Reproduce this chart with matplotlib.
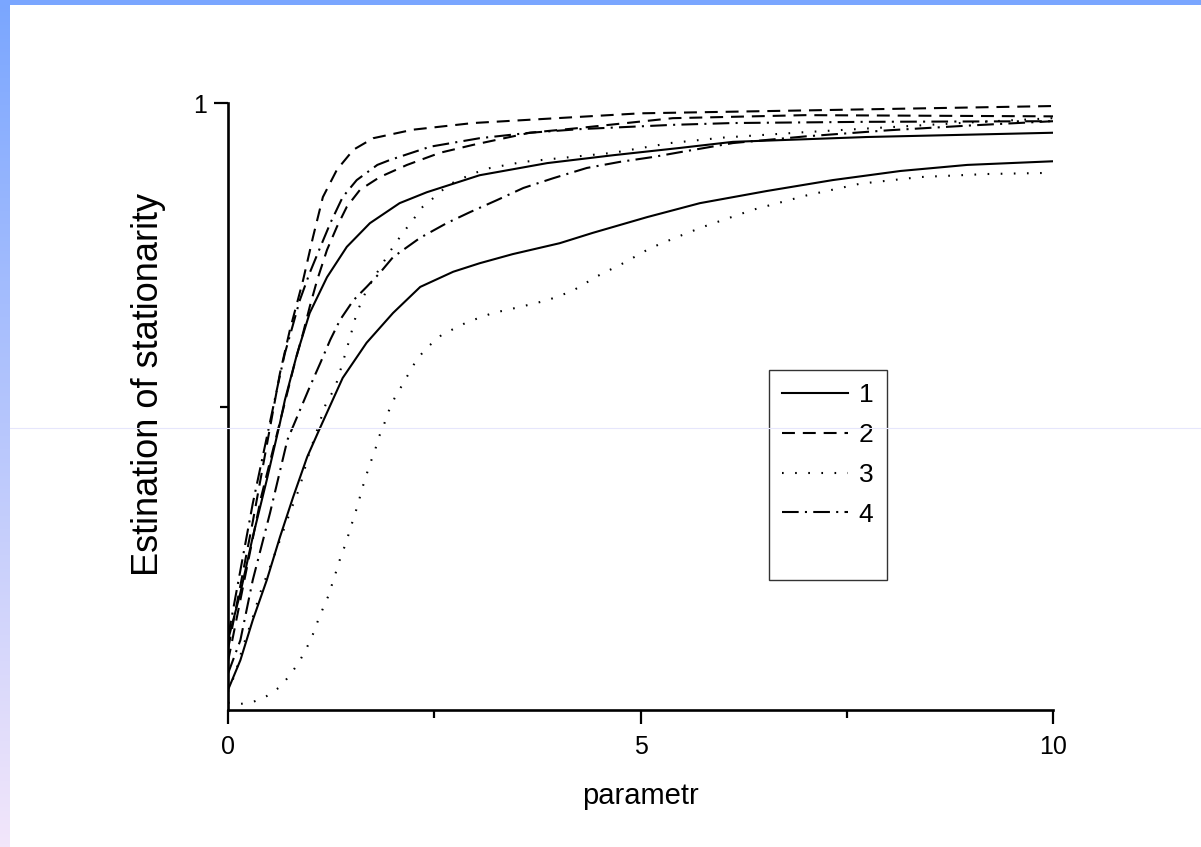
import numpy as np
import matplotlib
matplotlib.use("Agg")
import matplotlib.pyplot as plt
from matplotlib.lines import Line2D
from matplotlib.patches import Rectangle

plt.rcParams['font.family'] = ['Liberation Sans', 'DejaVu Sans']

# ---- data ----
x_1a = [0, 0.15, 0.30, 0.47, 0.63, 0.69, 0.84, 0.99, 1.2, 1.44, 1.72, 2.08, 2.41, 3.05, 3.87, 4.67, 5.48, 6.12, 7.75, 10]
y_1a = [0.115, 0.193, 0.285, 0.379, 0.473, 0.511, 0.588, 0.654, 0.713, 0.763, 0.802, 0.835, 0.853, 0.881, 0.901, 0.914, 0.926, 0.936, 0.944, 0.951]

x_1b = [0, 0.15, 0.30, 0.47, 0.63, 0.79, 0.96, 1.12, 1.27, 1.39, 1.68, 2.0, 2.33, 2.73, 3.05, 3.45, 4.02, 4.42, 5.08, 5.72, 6.53, 7.33, 8.15, 8.96, 10]
y_1b = [0.033, 0.082, 0.148, 0.214, 0.285, 0.351, 0.417, 0.466, 0.511, 0.547, 0.605, 0.654, 0.697, 0.722, 0.736, 0.751, 0.769, 0.786, 0.812, 0.835, 0.855, 0.873, 0.888, 0.898, 0.904]

x_2a = [0, 0.3, 0.63, 0.75, 0.91, 1.03, 1.15, 1.32, 1.52, 1.76, 2.24, 2.97, 5, 10]
y_2a = [0.1, 0.31, 0.555, 0.626, 0.708, 0.779, 0.845, 0.89, 0.923, 0.942, 0.956, 0.967, 0.983, 0.995]

x_2b = [0, 0.4, 0.81, 0.91, 0.99, 1.08, 1.2, 1.32, 1.44, 1.6, 1.84, 2.17, 2.57, 2.97, 3.66, 4.27, 5.39, 7, 10]
y_2b = [0.08, 0.35, 0.572, 0.621, 0.664, 0.708, 0.758, 0.796, 0.829, 0.857, 0.878, 0.898, 0.918, 0.931, 0.951, 0.959, 0.975, 0.98, 0.978]

x_3a = [0, 0.09, 0.18, 0.29, 0.39, 0.51, 0.63, 0.75, 0.87, 0.97, 1.08, 1.18, 1.3, 1.39, 1.48, 1.56, 1.68, 1.84, 2.0, 2.12, 2.24, 2.36, 2.53, 2.67, 2.84, 3.02, 3.18, 3.38, 3.58, 3.94, 4.67, 5.36, 6, 7, 8, 9, 10]
y_3a = [0.03, 0.061, 0.104, 0.148, 0.193, 0.236, 0.28, 0.325, 0.367, 0.417, 0.461, 0.502, 0.532, 0.572, 0.614, 0.654, 0.692, 0.728, 0.763, 0.786, 0.807, 0.829, 0.848, 0.865, 0.876, 0.886, 0.893, 0.898, 0.903, 0.908, 0.918, 0.934, 0.943, 0.952, 0.96, 0.968, 0.975]

x_3b = [0, 0.15, 0.30, 0.47, 0.63, 0.76, 0.87, 0.96, 1.03, 1.09, 1.15, 1.22, 1.27, 1.32, 1.37, 1.43, 1.48, 1.53, 1.58, 1.62, 1.67, 1.72, 1.78, 1.83, 1.89, 1.95, 2.02, 2.11, 2.29, 2.42, 2.59, 2.9, 3.21, 3.54, 3.87, 4.17, 4.48, 4.79, 5.12, 5.44, 5.76, 6.36, 7.02, 7.66, 8.39, 9.2, 10]
y_3b = [0.012, 0.010, 0.013, 0.023, 0.038, 0.059, 0.081, 0.104, 0.125, 0.147, 0.167, 0.189, 0.211, 0.232, 0.254, 0.275, 0.298, 0.319, 0.341, 0.362, 0.384, 0.405, 0.427, 0.450, 0.470, 0.493, 0.514, 0.535, 0.578, 0.598, 0.618, 0.639, 0.654, 0.664, 0.675, 0.690, 0.715, 0.736, 0.761, 0.779, 0.796, 0.824, 0.848, 0.867, 0.878, 0.883, 0.885]

x_4a = [0, 0.3, 0.61, 0.69, 0.78, 0.87, 0.99, 1.12, 1.24, 1.39, 1.56, 1.81, 1.96, 2.45, 3.05, 3.66, 4.27, 5.39, 6.12, 7.75, 10]
y_4a = [0.12, 0.34, 0.539, 0.588, 0.631, 0.675, 0.72, 0.763, 0.802, 0.845, 0.873, 0.898, 0.906, 0.928, 0.942, 0.951, 0.957, 0.964, 0.967, 0.969, 0.970]

x_4b = [0, 0.15, 0.3, 0.51, 0.72, 0.99, 1.12, 1.24, 1.36, 1.52, 1.68, 1.84, 2.0, 2.33, 2.65, 2.93, 3.26, 3.58, 3.94, 4.35, 4.75, 5.15, 5.48, 6.12, 7, 8, 9, 10]
y_4b = [0.06, 0.115, 0.214, 0.325, 0.445, 0.532, 0.572, 0.61, 0.643, 0.675, 0.697, 0.72, 0.746, 0.778, 0.802, 0.82, 0.84, 0.86, 0.876, 0.893, 0.903, 0.911, 0.919, 0.934, 0.945, 0.955, 0.963, 0.97]

legend_labels = ["1", "2", "3", "4"]
x_ticks = [0, 5, 10]
x_minor = [2.5, 7.5]
y_ticks = [1]
y_minor = [0.5]

# ---- styles ----
LW = 1.5
st = {
    "1": dict(linestyle="-"),
    "2": dict(linestyle=(0, (6.2, 3.8))),
    "3": dict(linestyle=(0, (0.8, 5.5))),
    "4": dict(linestyle=(0, (8, 3, 1, 3))),
}

fig = plt.figure(figsize=(12.01, 8.47), dpi=100)
fig.patch.set_facecolor("white")

# decorative slide borders
grad = np.linspace(0, 1, 256).reshape(-1, 1)
c_top = np.array([122, 166, 255]) / 255
c_bot = np.array([242, 230, 250]) / 255
img = c_top[None, None, :] * (1 - grad[:, :, None]) + c_bot[None, None, :] * grad[:, :, None]
bax = fig.add_axes([0, 0, 10 / 1201, 1])
bax.imshow(img, aspect="auto", extent=[0, 1, 0, 1])
bax.axis("off")
fig.add_artist(Rectangle((0, 1 - 5 / 847), 1, 5 / 847, transform=fig.transFigure,
                         facecolor=c_top, edgecolor="none"))
fig.add_artist(Line2D([10 / 1201, 1], [1 - 428 / 847] * 2, transform=fig.transFigure,
                      color=(0.90, 0.90, 0.99), lw=0.8))

ax = fig.add_axes([228 / 1201, 1 - 710 / 847, 825 / 1201, 607 / 847])
ax.set_facecolor("none")

kw = dict(color="black", lw=LW)
ax.plot(x_1a, y_1a, **kw, **st["1"], label=legend_labels[0])
ax.plot(x_1b, y_1b, **kw, **st["1"])
ax.plot(x_2a, y_2a, **kw, **st["2"], label=legend_labels[1])
ax.plot(x_2b, y_2b, **kw, **st["2"])
ax.plot(x_3a, y_3a, **kw, **st["3"], label=legend_labels[2])
ax.plot(x_3b, y_3b, **kw, **st["3"])
ax.plot(x_4a, y_4a, **kw, **st["4"], label=legend_labels[3])
ax.plot(x_4b, y_4b, **kw, **st["4"])
ax.plot([], [], color="none", label=" ")

ax.set_xlim(0, 10)
ax.set_ylim(0, 1)
for s in ["top", "right"]:
    ax.spines[s].set_visible(False)
for s in ["left", "bottom"]:
    ax.spines[s].set_linewidth(1.9)

ax.set_xticks(x_ticks)
ax.set_xticks(x_minor, minor=True)
ax.set_yticks(y_ticks)
ax.set_yticks(y_minor, minor=True)
ax.tick_params(which="major", direction="out", length=10, width=1.6, labelsize=18)
ax.tick_params(axis="x", which="major", pad=8)
ax.tick_params(axis="y", which="major", pad=5)
ax.tick_params(which="minor", direction="out", length=6, width=1.6)

ax.set_xlabel("parametr", fontsize=21)
ax.set_ylabel("Estination of stationarity", fontsize=26)
ax.xaxis.set_label_coords(0.5, -0.118)
ax.yaxis.set_label_coords(-0.075, 0.537)

leg = ax.legend(loc="upper left", bbox_to_anchor=((769 - 228) / 825, (710 - 370) / 607),
                bbox_transform=ax.transAxes, fontsize=19, handlelength=2.5, handletextpad=0.4,
                labelspacing=0.6, borderpad=0.5, borderaxespad=0, fancybox=False, frameon=True)
leg.get_frame().set_edgecolor("black")
leg.get_frame().set_linewidth(1.0)

fig.savefig("out.png", dpi=100)
